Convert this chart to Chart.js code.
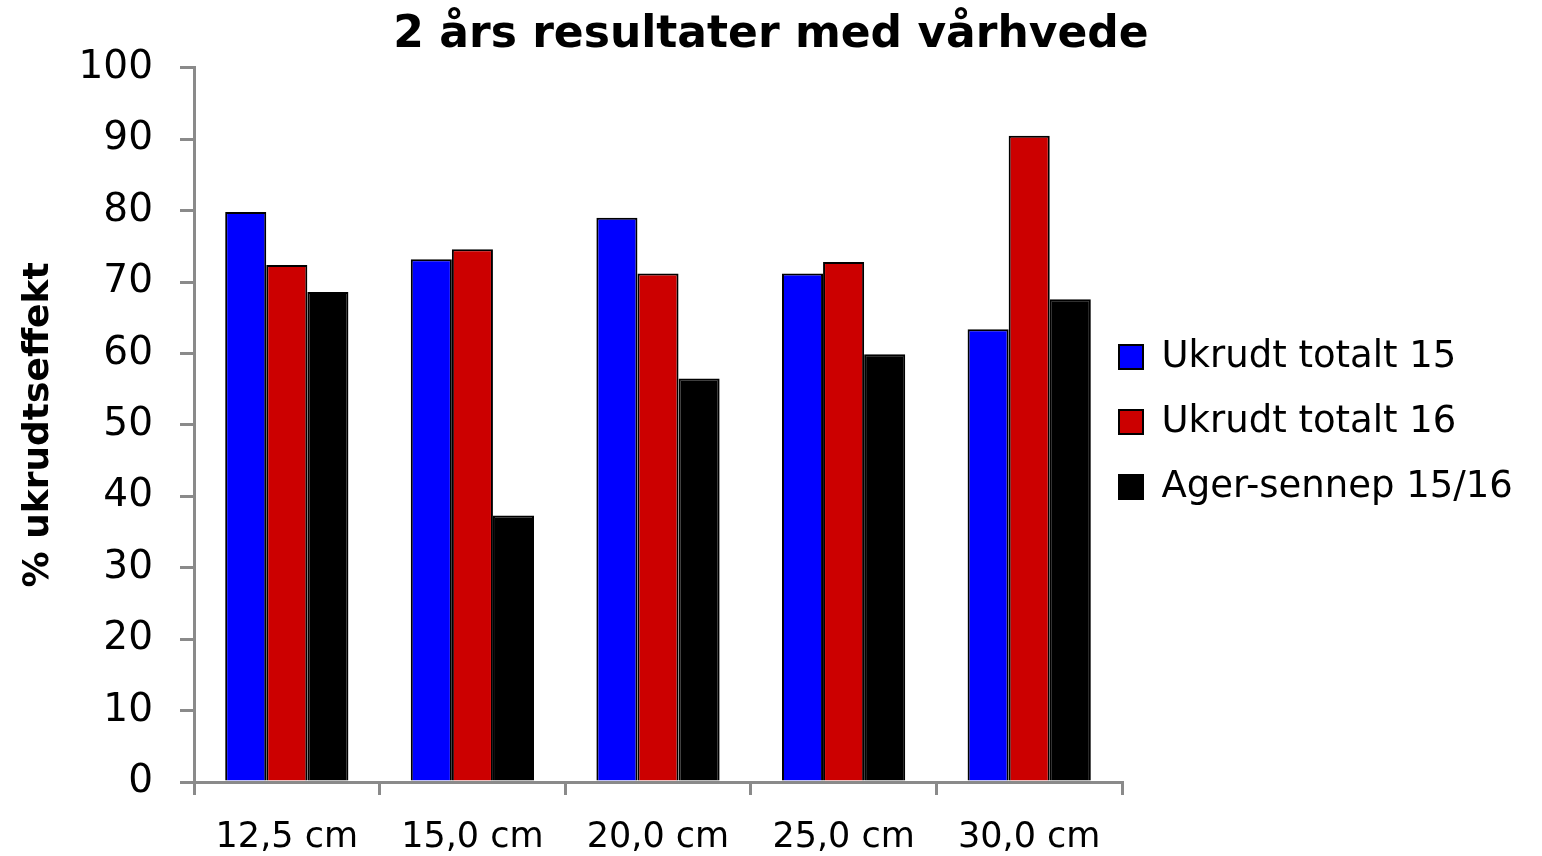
<!DOCTYPE html>
<html>
<head>
<meta charset="utf-8">
<script src="https://cdn.jsdelivr.net/npm/chart.js@4"></script>
<style>
  html, body { margin: 0; padding: 0; background: #fff; }
  #wrap { width: 1542px; height: 856px; }
</style>
</head>
<body>
<div id="wrap"><canvas id="chart" width="1542" height="856"></canvas></div>
<script>
// Data
const categories = ['12,5 cm', '15,0 cm', '20,0 cm', '25,0 cm', '30,0 cm'];
const ukrudt15 = [79.8, 73.2, 79.0, 71.2, 63.4];
const ukrudt16 = [72.4, 74.6, 71.2, 72.8, 90.5];
const agerSennep = [68.6, 37.3, 56.5, 59.9, 67.6];
const seriesNames = ['Ukrudt totalt 15', 'Ukrudt totalt 16', 'Ager-sennep 15/16'];
const seriesColors = ['#0000ff', '#cc0000', '#000000'];

const fontFamily = '"DejaVu Sans", sans-serif';
const axisGrey = '#8a8a8a';

// keep the legend column a fixed width so the plot ends where the original does,
// then pull the legend a bit left so the boxes sit close to the axis end
const legendWidth = {
    id: 'legendWidth',
    beforeLayout(chart) {
        const legend = chart.legend;
        if (legend && !legend._fixedFit) {
            const fit = legend.fit;
            legend.fit = function () {
                fit.call(this);
                this.width = 420;
            };
            legend._fixedFit = true;
        }
    },
    afterLayout(chart) {
        chart.legend.left -= 31;
        chart.legend.right -= 31;
        chart.legend.top -= 6;
        chart.legend.bottom -= 6;
    }
};

const ctx = document.getElementById('chart').getContext('2d');
new Chart(ctx, {
    type: 'bar',
    data: {
        labels: categories,
        datasets: [ukrudt15, ukrudt16, agerSennep].map((values, i) => ({
            label: seriesNames[i],
            data: values,
            backgroundColor: seriesColors[i],
            borderColor: '#000',
            borderWidth: 2,
            barPercentage: 1,
            categoryPercentage: 0.664
        }))
    },
    plugins: [legendWidth],
    options: {
        responsive: false,
        animation: false,
        layout: { padding: 0 },
        plugins: {
            title: {
                display: true,
                text: '2 års resultater med vårhvede',
                color: '#000',
                font: { family: fontFamily, size: 44, weight: 'bold' },
                padding: { top: 9, bottom: 6 }
            },
            legend: {
                position: 'right',
                labels: {
                    color: '#000',
                    font: { family: fontFamily, size: 37 },
                    boxWidth: 24,
                    boxHeight: 24,
                    padding: 28
                }
            },
            tooltip: { enabled: false }
        },
        scales: {
            x: {
                afterFit(scale) { scale.height = 74; },
                grid: {
                    drawOnChartArea: false,
                    color: axisGrey,
                    lineWidth: 3,
                    tickLength: 13,
                    offset: true
                },
                border: { color: axisGrey, width: 3 },
                ticks: {
                    color: '#000',
                    font: { family: fontFamily, size: 35 },
                    padding: 22
                }
            },
            y: {
                min: 0,
                max: 100,
                afterFit(scale) { scale.width = 194; },
                grid: {
                    drawOnChartArea: false,
                    color: axisGrey,
                    lineWidth: 3,
                    tickLength: 14
                },
                border: { color: axisGrey, width: 3 },
                ticks: {
                    stepSize: 10,
                    color: '#000',
                    font: { family: fontFamily, size: 39 },
                    padding: 27
                },
                title: {
                    display: true,
                    text: '% ukrudtseffekt',
                    color: '#000',
                    font: { family: fontFamily, size: 36, weight: 'bold' },
                    padding: { top: 17, bottom: 20 }
                }
            }
        }
    }
});
</script>
</body>
</html>
